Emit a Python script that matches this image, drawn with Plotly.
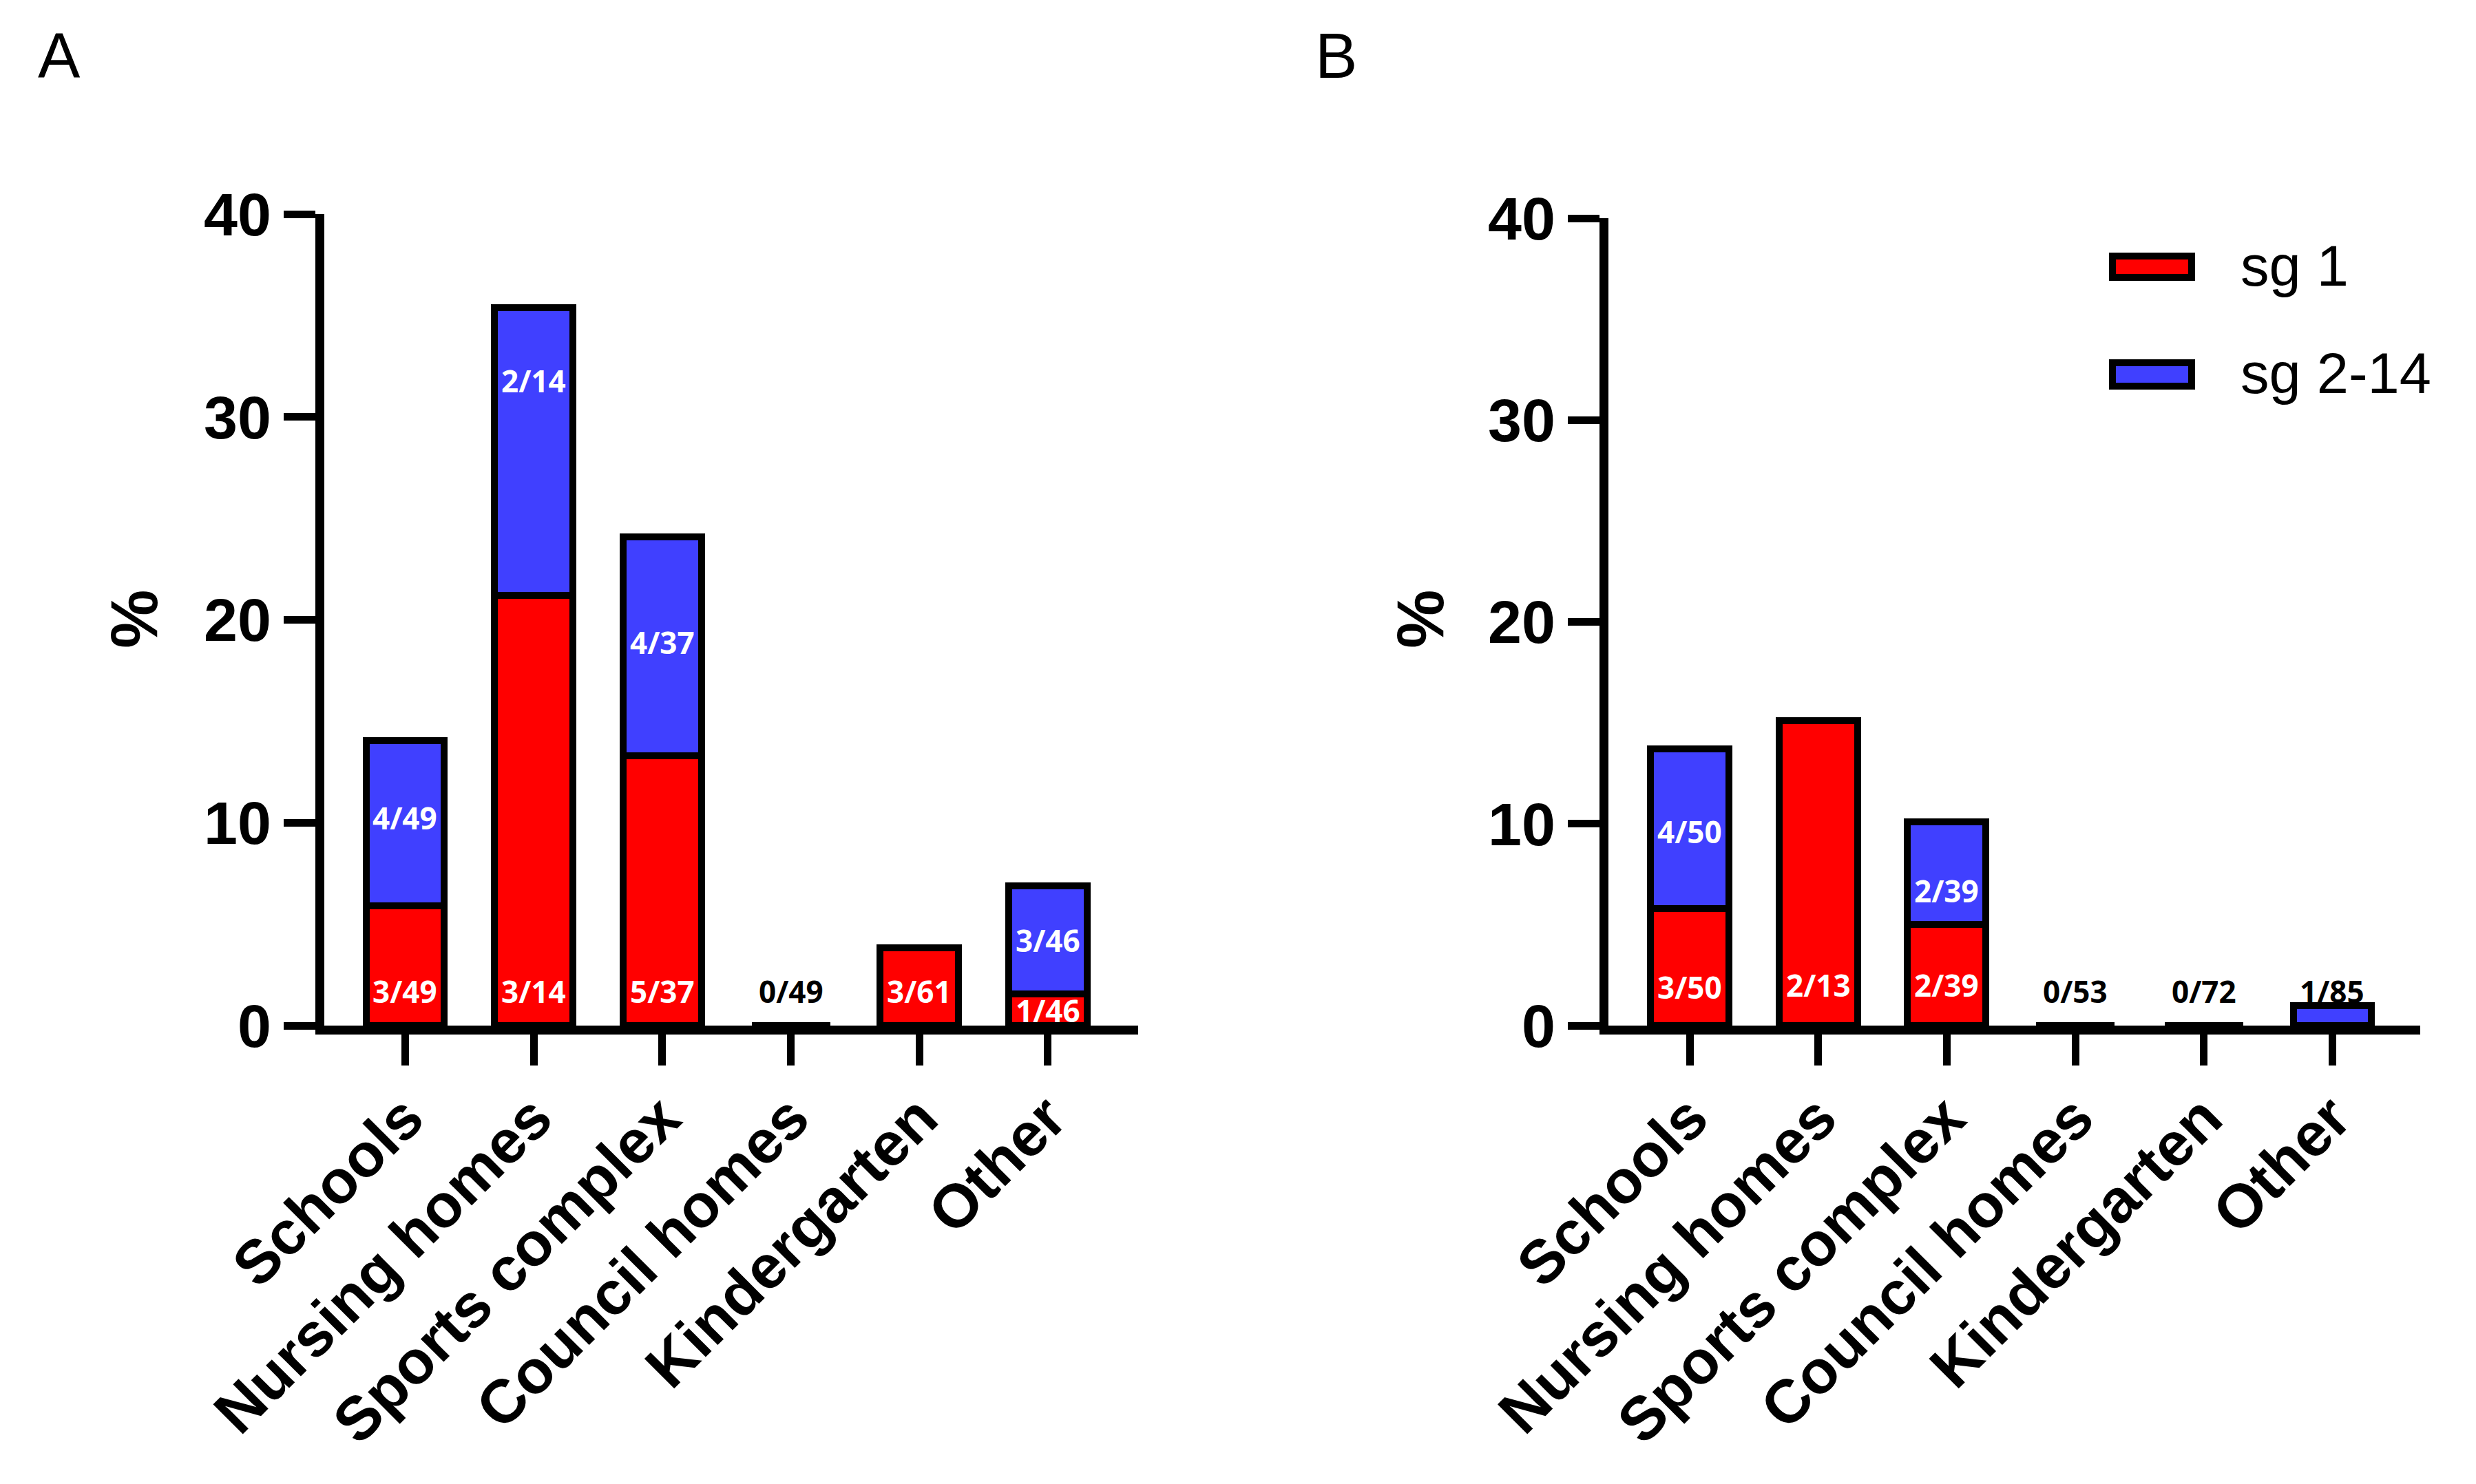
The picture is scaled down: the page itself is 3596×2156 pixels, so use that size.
import plotly.graph_objects as go

W, H = 3596, 2156
OFF = 8  # page body margin of the rendered html

categories = ["Schools", "Nursing homes", "Sports complex", "Council homes", "Kindergarten", "Other"]

# Panel A values (%)
a_sg1 = [5.9, 21.2, 13.3, 0.0, 3.85, 1.55]
a_sg2 = [8.15, 14.2, 10.8, 0.0, 0.0, 5.35]
a_lab_sg1 = ["3/49", "3/14", "5/37", "0/49", "3/61", "1/46"]
a_lab_sg2 = ["4/49", "2/14", "4/37", "", "", "3/46"]

# Panel B values (%)
b_sg1 = [5.8, 15.1, 5.0, 0.0, 0.0, 0.0]
b_sg2 = [7.9, 0.0, 5.1, 0.0, 0.0, 1.0]
b_lab_sg1 = ["3/50", "2/13", "2/39", "0/53", "0/72", ""]
b_lab_sg2 = ["4/50", "", "2/39", "", "", "1/85"]

y_ticks = [0, 10, 20, 30, 40]
series_names = ["sg 1", "sg 2-14"]

RED = "#FF0000"
BLUE = "#4040FF"

# label vertical placement (layout only)
a_pos_sg1 = [1.7, 1.7, 1.7, 1.7, 1.7, 0.75]
a_pos_sg2 = [10.25, 31.8, 18.9, None, None, 4.2]
b_pos_sg1 = [1.9, 2.0, 2.0, 1.7, 1.7, None]
b_pos_sg2 = [9.6, None, 6.7, None, None, 1.7]

fig = go.Figure()
for xa, ya, s1, s2 in [("x", "y", a_sg1, a_sg2), ("x2", "y2", b_sg1, b_sg2)]:
    fig.add_trace(go.Bar(x=categories, y=s1, xaxis=xa, yaxis=ya, name=series_names[0],
                         marker=dict(color=RED, line=dict(color="black", width=10)),
                         width=0.61, showlegend=False))
    fig.add_trace(go.Bar(x=categories, y=s2, xaxis=xa, yaxis=ya, name=series_names[1],
                         marker=dict(color=BLUE, line=dict(color="black", width=10)),
                         width=0.61, showlegend=False))

def px_x(v):
    return (v - OFF) / W

def px_y(v):
    return 1 - (v - OFF) / H

annotations = []
lab_font = dict(family="Open Sans", size=44, weight=700)

def add_labels(xref, yref, labels1, pos1, labels2, pos2, vals1):
    for i, c in enumerate(categories):
        if labels1[i] and pos1[i] is not None:
            col = "white" if vals1[i] > 0 else "black"
            annotations.append(dict(x=c, y=pos1[i], xref=xref, yref=yref, text=labels1[i],
                                    showarrow=False, font=dict(color=col, **lab_font)))
        if labels2[i] and pos2[i] is not None:
            annotations.append(dict(x=c, y=pos2[i], xref=xref, yref=yref, text=labels2[i],
                                    showarrow=False, font=dict(color="white", **lab_font)))

add_labels("x", "y", a_lab_sg1, a_pos_sg1, a_lab_sg2, a_pos_sg2, a_sg1)
add_labels("x2", "y2", b_lab_sg1, b_pos_sg1, b_lab_sg2, b_pos_sg2, b_sg1)
# "1/85" sits above a tiny blue bar -> black
for an in annotations:
    if an["text"] == "1/85":
        an["font"] = dict(color="black", **lab_font)

# panel letters
for txt, cx in [("A", 86), ("B", 1940)]:
    annotations.append(dict(x=px_x(cx), y=px_y(81), xref="paper", yref="paper", text=txt,
                            showarrow=False, xanchor="center", yanchor="middle",
                            font=dict(family="Liberation Sans", size=92, color="black")))
# y titles
for cx in [194, 2062]:
    annotations.append(dict(x=px_x(cx), y=px_y(900), xref="paper", yref="paper", text="%",
                            showarrow=False, textangle=-90, xanchor="center", yanchor="middle",
                            font=dict(family="Liberation Sans", size=96, color="black", weight="bold")))

# custom legend
shapes = []
for (name, col, y0, y1, ty) in [(series_names[0], RED, 372, 403, 386), (series_names[1], BLUE, 527, 561, 543)]:
    shapes.append(dict(type="rect", xref="paper", yref="paper",
                       x0=px_x(3068), x1=px_x(3183), y0=px_y(y1), y1=px_y(y0),
                       fillcolor=col, line=dict(color="black", width=10)))
    annotations.append(dict(x=px_x(3252), y=px_y(ty), xref="paper", yref="paper", text=name,
                            showarrow=False, xanchor="left", yanchor="middle",
                            font=dict(family="Liberation Sans", size=83, color="black")))

yax = dict(range=[0, 40], tickvals=y_ticks, ticks="outside", ticklen=46, tickwidth=11,
           showline=True, linewidth=13, linecolor="black", tickcolor="black",
           showgrid=False, zeroline=False, automargin=False,
           tickfont=dict(family="Liberation Sans", size=88, color="black", weight="bold"))
xax = dict(type="category", categoryorder="array", categoryarray=categories,
           ticks="outside", ticklen=45, tickwidth=11, tickangle=-45, ticklabelstandoff=-12,
           showline=True, linewidth=13, linecolor="black", tickcolor="black",
           showgrid=False, zeroline=False, automargin=False,
           tickfont=dict(family="Liberation Sans", size=89, color="black", weight="bold"))

fig.update_layout(
    template="none",
    width=W, height=H, barmode="stack",
    paper_bgcolor="white", plot_bgcolor="white",
    margin=dict(l=0, r=0, t=0, b=0, pad=0, autoexpand=False),
    xaxis=dict(xax, domain=[px_x(470.5), px_x(1653)], range=[-0.632, 5.702], anchor="y"),
    yaxis=dict(yax, domain=[px_y(1490), px_y(311)], anchor="x"),
    xaxis2=dict(xax, domain=[px_x(2335.5), px_x(3515)], range=[-0.635, 5.683], anchor="y2"),
    yaxis2=dict(yax, domain=[px_y(1490), px_y(317)], anchor="x2"),
    annotations=annotations, shapes=shapes, showlegend=False,
)

fig.write_html("out.html")
